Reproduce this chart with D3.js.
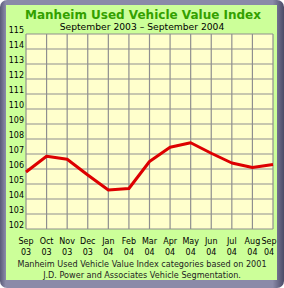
<!DOCTYPE html>
<html>
<head>
<meta charset="utf-8">
<script src="https://cdn.jsdelivr.net/npm/d3@7"></script>
<style>
  body { margin: 0; background: #fff; }
  text { font-family: "DejaVu Sans", Verdana, sans-serif; }
</style>
</head>
<body>
<div id="chart"></div>
<script>
const months = ["Sep\n03", "Oct\n03", "Nov\n03", "Dec\n03", "Jan\n04", "Feb\n04", "Mar\n04",
  "Apr\n04", "May\n04", "Jun\n04", "Jul\n04", "Aug\n04", "Sep\n04"];
const index = [105.8, 106.85, 106.65, 105.6, 104.6, 104.7, 106.5, 107.45, 107.75, 107.05, 106.4, 106.1, 106.3];
const yTicks = d3.range(102, 116);

const W = 284, H = 288;
const margin = { top: 34, right: 11, bottom: 59, left: 26 };
const width = W - margin.left - margin.right;
const height = H - margin.top - margin.bottom;

const svg = d3.select("#chart")
  .append("svg")
  .attr("width", W)
  .attr("height", H);

// frame
const defs = svg.append("defs");
const grad = defs.append("linearGradient").attr("id", "frame").attr("x1", 0).attr("x2", 1);
grad.append("stop").attr("offset", "0%").attr("stop-color", "#5a5a78");
grad.append("stop").attr("offset", "2%").attr("stop-color", "#8a8aa8");
grad.append("stop").attr("offset", "96%").attr("stop-color", "#8a8aa8");
grad.append("stop").attr("offset", "100%").attr("stop-color", "#4a4a66");

svg.append("rect")
  .attr("x", 0).attr("y", 0).attr("width", W).attr("height", H)
  .attr("rx", 7)
  .attr("fill", "url(#frame)");
svg.append("rect")
  .attr("x", 6).attr("y", 5).attr("width", 271).attr("height", 275)
  .attr("fill", "#ccff99");

const g = svg.append("g")
  .attr("transform", `translate(${margin.left},${margin.top})`);

const x = d3.scalePoint()
  .domain(d3.range(months.length))
  .range([0, width]);

const y = d3.scaleLinear()
  .domain([102, 115])
  .range([height, 0]);

g.append("rect")
  .attr("width", width).attr("height", height)
  .attr("fill", "#ffffcc");

// grid
g.selectAll(".hgrid")
  .data(yTicks)
  .join("line")
  .attr("x1", 0).attr("x2", width)
  .attr("y1", d => y(d)).attr("y2", d => y(d))
  .attr("stroke", "#8f8f8f")
  .attr("stroke-width", 1.2);

g.selectAll(".vgrid")
  .data(d3.range(months.length))
  .join("line")
  .attr("x1", d => x(d)).attr("x2", d => x(d))
  .attr("y1", 0).attr("y2", height)
  .attr("stroke", "#8f8f8f")
  .attr("stroke-width", 1.2);

// y labels
g.selectAll(".ylab")
  .data(yTicks)
  .join("text")
  .attr("x", -2)
  .attr("y", d => y(d) - 1)
  .attr("text-anchor", "end")
  .attr("font-size", 8)
  .attr("fill", "#000")
  .text(d => d);

// x labels
const xl = g.selectAll(".xlab")
  .data(months)
  .join("text")
  .attr("transform", (d, i) => `translate(${Math.min(x(i), width - 4)},${height + 15})`)
  .attr("text-anchor", "middle")
  .attr("font-size", 8)
  .attr("fill", "#000");
xl.selectAll("tspan")
  .data(d => d.split("\n"))
  .join("tspan")
  .attr("x", 0)
  .attr("dy", (d, i) => i === 0 ? 0 : 11)
  .text(d => d);

// line
g.append("path")
  .datum(index)
  .attr("fill", "none")
  .attr("stroke", "#dd0000")
  .attr("stroke-width", 3)
  .attr("stroke-linejoin", "round")
  .attr("d", d3.line().x((d, i) => x(i)).y(d => y(d)));

// titles
svg.append("text")
  .attr("x", 143).attr("y", 19)
  .attr("text-anchor", "middle")
  .attr("font-size", 12)
  .attr("font-weight", "bold")
  .attr("fill", "#33a000")
  .text("Manheim Used Vehicle Value Index");

svg.append("text")
  .attr("x", 142).attr("y", 30)
  .attr("text-anchor", "middle")
  .attr("font-size", 9.2)
  .attr("fill", "#000")
  .text("September 2003 – September 2004");

svg.append("text")
  .attr("x", 142).attr("y", 267)
  .attr("text-anchor", "middle")
  .attr("font-size", 8.1)
  .attr("fill", "#222")
  .text("Manheim Used Vehicle Value Index categories based on 2001");

svg.append("text")
  .attr("x", 142).attr("y", 278)
  .attr("text-anchor", "middle")
  .attr("font-size", 8.1)
  .attr("fill", "#222")
  .text("J.D. Power and Associates Vehicle Segmentation.");
</script>
</body>
</html>
